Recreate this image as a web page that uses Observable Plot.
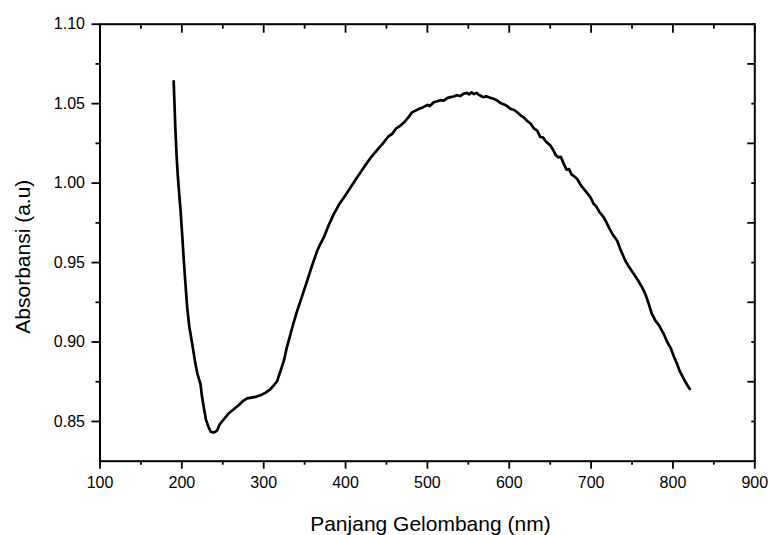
<!DOCTYPE html>
<html>
<head>
<meta charset="utf-8">
<script src="https://cdn.jsdelivr.net/npm/d3@7"></script>
<script src="https://cdn.jsdelivr.net/npm/@observablehq/plot@0.6"></script>
<style>
  html, body { margin: 0; padding: 0; background: #fff; }
  #chart { width: 769px; height: 535px; }
</style>
</head>
<body>
<div id="chart"></div>
<script>
const wavelength = [190,191,192,193.5,195,196.5,198.4,200.5,202.4,204.5,206.5,209,212.6,216.7,219,222.8,224.5,226.8,229.5,232.9,235.5,238.3,241,243.2,246,251.3,257,263.5,270,275,279.8,285,290,296.1,302,308.3,312,316.5,320,324.6,328,332.7,336.5,340.9,347,353.1,359,365.4,369,373.4,379,385.6,392,398,406,414,422.3,430,438,446.7,452,457,462,467.1,472,477,481,485.5,490,495,500,503,507.8,512,516,520,524,528.2,532,536,540,544,548.6,551,554,557,560,563,566,568.9,572,576,580,585.3,589,592,596,601.5,606,610,614,617.8,622,626,630,634.1,638,641,645,650.4,654,657,660,663,666.7,670,673,676,680,683,687,690,694,699.3,703,706,710,715.5,719,722,726,731.9,736,742,746,752.2,757,762.4,766,770.5,774,778.7,783,788.8,793,797,801,805.2,808,811.3,815,819.4,820.5];
const absorbance = [1.064,1.050,1.035,1.018,1.005,0.995,0.983,0.967,0.951,0.936,0.922,0.910,0.899,0.886,0.880,0.8735,0.866,0.859,0.851,0.8461,0.8435,0.843,0.8435,0.8445,0.848,0.8514,0.855,0.8577,0.8605,0.863,0.8645,0.865,0.8655,0.8665,0.868,0.8703,0.8725,0.8755,0.881,0.8881,0.896,0.905,0.912,0.9196,0.929,0.9385,0.948,0.9574,0.9615,0.9658,0.973,0.9805,0.9865,0.991,0.9973,1.0035,1.0099,1.0155,1.0205,1.0257,1.0292,1.031,1.0345,1.0362,1.0385,1.0415,1.0445,1.0456,1.0468,1.0478,1.0492,1.0485,1.0509,1.0515,1.0522,1.0518,1.0535,1.0541,1.0545,1.0553,1.0548,1.0562,1.0568,1.0558,1.0571,1.056,1.0568,1.0555,1.0547,1.0541,1.0546,1.0538,1.0532,1.052,1.0505,1.0498,1.049,1.0467,1.046,1.0445,1.0425,1.0414,1.039,1.0375,1.0345,1.033,1.029,1.0288,1.026,1.0236,1.0205,1.0175,1.0162,1.0165,1.012,1.0085,1.0088,1.0055,1.004,1.0026,0.999,0.997,0.9945,0.991,0.987,0.9855,0.982,0.9784,0.975,0.9718,0.968,0.9637,0.958,0.951,0.9475,0.9428,0.939,0.9344,0.9305,0.9239,0.918,0.9133,0.9105,0.905,0.900,0.8965,0.891,0.886,0.882,0.8787,0.875,0.8713,0.8705];

const xMajorTicks = [100,200,300,400,500,600,700,800,900];
const xMinorTicks = [150,250,350,450,550,650,750,850];
const yMajorTicks = [0.85,0.90,0.95,1.00,1.05,1.10];
const yMinorTicks = [0.875,0.925,0.975,1.025,1.075];
const xTitle = "Panjang Gelombang (nm)";
const yTitle = "Absorbansi (a.u)";

const data = wavelength.map((w, i) => ({w, a: absorbance[i]}));
const font = "Arial, 'Liberation Sans', Helvetica, sans-serif";

const chart = Plot.plot({
  width: 769,
  height: 535,
  marginLeft: 99.5,
  marginRight: 14.7,
  marginTop: 23.7,
  marginBottom: 74.3,
  style: {fontFamily: font, fontSize: "16px", color: "#000", background: "#fff", overflow: "visible"},
  x: {domain: [100, 900]},
  y: {domain: [0.825, 1.10]},
  marks: [
    // bottom axis
    Plot.axisX({anchor: "bottom", ticks: xMajorTicks, tickSize: 8, tickPadding: 7, strokeWidth: 1.8, tickFormat: d3.format("d"), label: null, fontSize: 16}),
    Plot.axisX({anchor: "bottom", ticks: xMinorTicks, tickSize: 4, strokeWidth: 1.8, tickFormat: () => "", label: null}),
    // top axis (inward)
    Plot.axisX({anchor: "top", ticks: xMajorTicks, tickSize: -8, strokeWidth: 1.8, tickFormat: () => "", label: null}),
    Plot.axisX({anchor: "top", ticks: xMinorTicks, tickSize: -4, strokeWidth: 1.8, tickFormat: () => "", label: null}),
    // left axis
    Plot.axisY({anchor: "left", ticks: yMajorTicks, tickSize: 8, tickPadding: 7, strokeWidth: 1.8, tickFormat: d3.format(".2f"), label: null, fontSize: 16}),
    Plot.axisY({anchor: "left", ticks: yMinorTicks, tickSize: 4, strokeWidth: 1.8, tickFormat: () => "", label: null}),
    // right axis (inward, long ticks at the odd positions as in the reference)
    Plot.axisY({anchor: "right", ticks: yMinorTicks, tickSize: -8, strokeWidth: 1.8, tickFormat: () => "", label: null}),
    Plot.axisY({anchor: "right", ticks: yMajorTicks, tickSize: -4, strokeWidth: 1.8, tickFormat: () => "", label: null}),
    Plot.frame({stroke: "#000", strokeWidth: 2}),
    Plot.line(data, {x: "w", y: "a", stroke: "#000", strokeWidth: 2.7, strokeLinejoin: "round", strokeLinecap: "round"}),
    Plot.text([xTitle], {frameAnchor: "bottom", text: d => d, dx: 3, dy: 63, fontSize: 21, lineAnchor: "middle", fill: "#000"}),
    Plot.text([yTitle], {frameAnchor: "left", text: d => d, rotate: -90, dx: -77, dy: 14, fontSize: 21, lineAnchor: "middle", textAnchor: "middle", fill: "#000"})
  ]
});
document.getElementById("chart").appendChild(chart);
</script>
</body>
</html>
